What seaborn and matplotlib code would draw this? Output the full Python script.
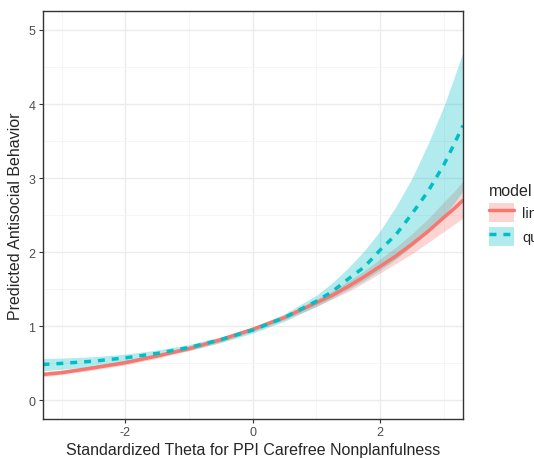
import numpy as np
import pandas as pd
import matplotlib.pyplot as plt
from matplotlib.patches import Patch
from matplotlib.lines import Line2D
import seaborn as sns

# values
theta = [-3.3, -3.0, -2.5, -2.0, -1.5, -1.0, -0.5, 0.0, 0.5, 1.0, 1.25, 1.5, 1.75,
         2.0, 2.25, 2.5, 2.75, 3.0, 3.15, 3.3]

lin_fit = [0.35, 0.375, 0.44, 0.51, 0.60, 0.70, 0.82, 0.96, 1.12, 1.32, 1.42, 1.54, 1.67,
           1.81, 1.95, 2.11, 2.28, 2.47, 2.58, 2.70]
lin_lo = [0.32, 0.35, 0.41, 0.48, 0.57, 0.67, 0.79, 0.93, 1.09, 1.27, 1.37, 1.47, 1.59,
          1.72, 1.85, 1.98, 2.13, 2.28, 2.37, 2.46]
lin_hi = [0.39, 0.41, 0.47, 0.54, 0.63, 0.73, 0.85, 0.99, 1.15, 1.37, 1.48, 1.61, 1.75,
          1.91, 2.07, 2.25, 2.45, 2.68, 2.81, 2.96]

quad_fit = [0.485, 0.50, 0.53, 0.575, 0.635, 0.715, 0.82, 0.95, 1.12, 1.34, 1.47, 1.64, 1.80,
            2.03, 2.24, 2.52, 2.82, 3.18, 3.44, 3.71]
quad_lo = [0.40, 0.42, 0.46, 0.52, 0.59, 0.675, 0.78, 0.91, 1.07, 1.27, 1.38, 1.50, 1.62,
           1.76, 1.91, 2.08, 2.27, 2.50, 2.65, 2.83]
quad_hi = [0.565, 0.572, 0.59, 0.625, 0.68, 0.755, 0.86, 0.99, 1.17, 1.42, 1.59, 1.79, 2.02,
           2.29, 2.62, 3.00, 3.46, 3.97, 4.33, 4.70]

models = ['linear', 'quadratic']
colors = {'linear': '#F8766D', 'quadratic': '#00BFC4'}

df = pd.DataFrame({
    'theta': theta * 2,
    'fit': lin_fit + quad_fit,
    'lo': lin_lo + quad_lo,
    'hi': lin_hi + quad_hi,
    'model': ['linear'] * len(theta) + ['quadratic'] * len(theta),
})

sns.set_style('whitegrid')
plt.rcParams['font.family'] = ['Liberation Sans', 'DejaVu Sans']
plt.rcParams['axes.unicode_minus'] = False

fig = plt.figure(figsize=(5.34, 4.60), dpi=100)
ax = fig.add_axes([0.0796, 0.087, 0.7874, 0.886])

# confidence ribbons
for m in models:
    d = df[df['model'] == m]
    ax.fill_between(d['theta'], d['lo'], d['hi'], color=colors[m], alpha=0.3, linewidth=0)

sns.lineplot(data=df, x='theta', y='fit', hue='model', style='model', palette=colors,
             dashes={'linear': '', 'quadratic': (2, 2)}, linewidth=2.5, ax=ax, legend=False)

ax.set_xlim(-3.3, 3.3)
ax.set_ylim(-0.25, 5.25)
ax.set_xticks([-2, 0, 2])
ax.set_xticks([-3, -1, 1, 3], minor=True)
ax.set_yticks([0, 1, 2, 3, 4, 5])
ax.set_yticks([0.5, 1.5, 2.5, 3.5, 4.5], minor=True)
ax.grid(which='major', color='#EBEBEB', linewidth=1.0)
ax.grid(which='minor', color='#F4F4F4', linewidth=0.6)
ax.set_axisbelow(True)
for s in ax.spines.values():
    s.set_color('#333333')
    s.set_linewidth(1.0)
ax.tick_params(which='major', length=3, color='#333333', labelsize=9, labelcolor='#4D4D4D',
               bottom=True, left=True, pad=2)
ax.tick_params(which='minor', length=0)

ax.set_xlabel('Standardized Theta for PPI Carefree Nonplanfulness', fontsize=11.5, labelpad=3)
ax.set_ylabel('Predicted Antisocial Behavior', fontsize=11.5, labelpad=4)

handles = []
for m in models:
    ls = '-' if m == 'linear' else (0, (2, 2))
    handles.append((Patch(facecolor=colors[m], alpha=0.3, edgecolor='none'),
                    Line2D([], [], color=colors[m], linewidth=2.5, linestyle=ls)))
leg = fig.legend(handles, models, title='model', loc='upper left',
                 bbox_to_anchor=(483 / 534, 1 - 178 / 460), frameon=False,
                 fontsize=10.5, title_fontsize=11.5, handlelength=1.7, handleheight=1.6,
                 handletextpad=0.6, labelspacing=0.35, borderaxespad=0)
leg._legend_box.align = 'left'

fig.savefig('out.png', dpi=100)
